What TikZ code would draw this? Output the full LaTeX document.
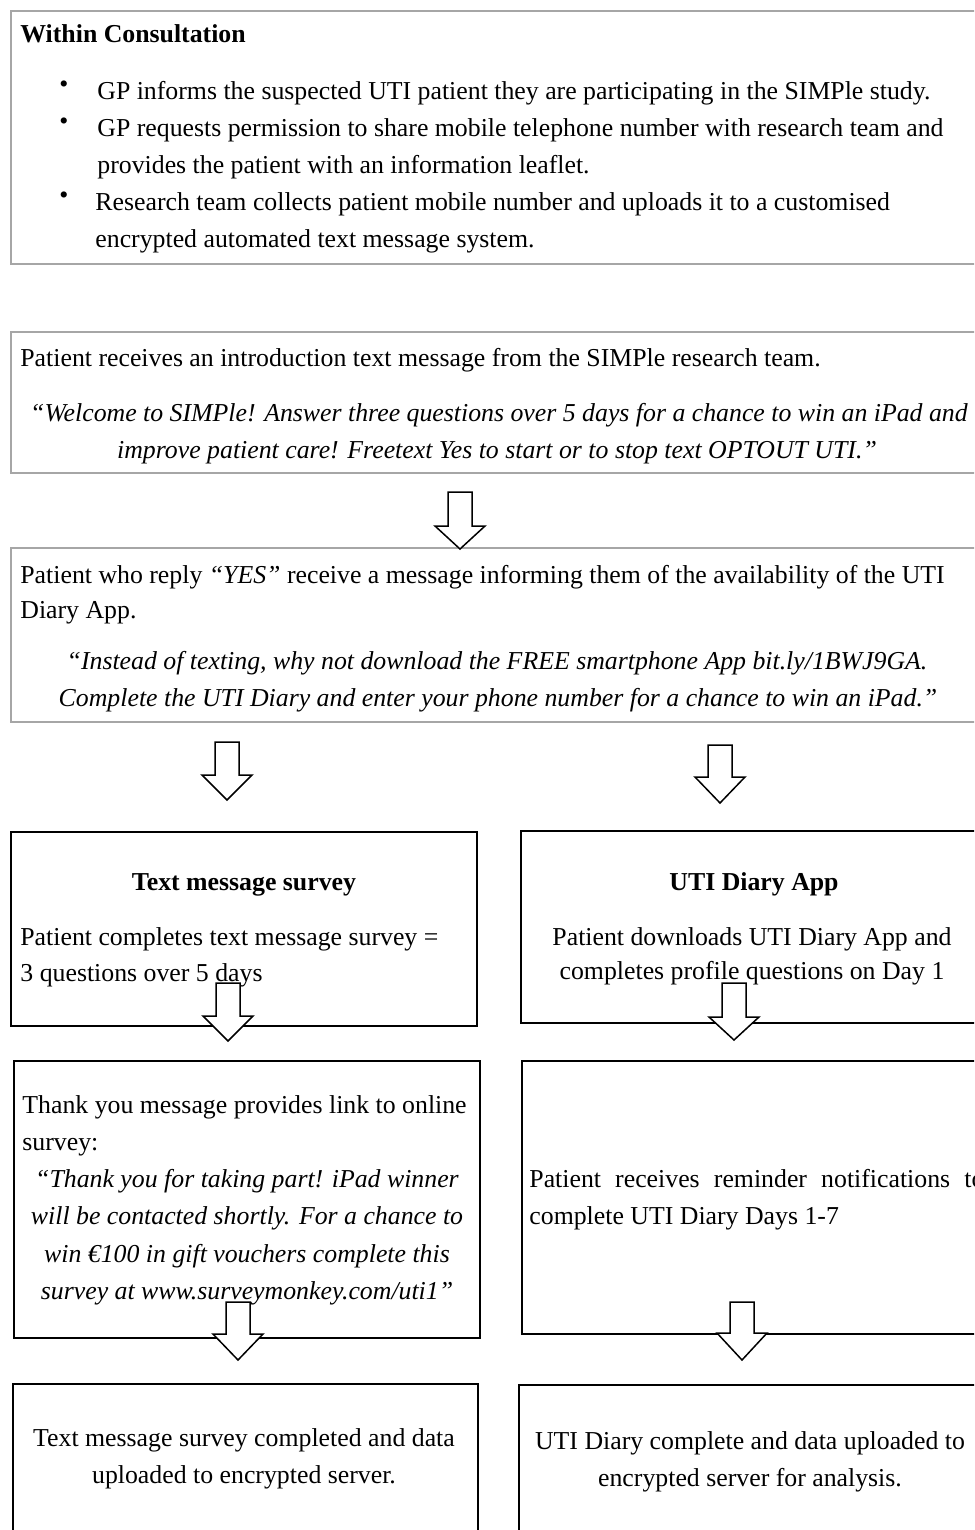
\documentclass[tikz,border=0pt]{standalone}
\usepackage{fontspec}
\setmainfont{Liberation Serif}
\newlength{\du}
\setlength{\du}{0.5pt}
% block arrow pointing down: centre x, top y, shoulder y, tip y
\newcommand{\downblock}[4]{%
\draw[blockarrow] (#1-12,#2)--(#1+12,#2)--(#1+12,#3)--(#1+25,#3)--(#1,#4)--(#1-25,#3)--(#1-12,#3)--cycle;}

\begin{document}
\begin{tikzpicture}[x=\du,y=-\du]
\tikzset{
  greybox/.style={draw=black!35,line width=2\du,anchor=north west,inner sep=0pt},
  blackbox/.style={draw=black,line width=2.2\du,anchor=north west,inner sep=0pt},
  txt/.style={anchor=base west,inner sep=0pt,font=\fontsize{12.9}{18.5}\selectfont},
  ctxt/.style={anchor=base,inner sep=0pt,font=\fontsize{12.9}{18.5}\selectfont},
  blockarrow/.style={draw=black,fill=white,line width=1.5\du,line join=miter}
}
\useasboundingbox (0,0) rectangle (974,1530);
\clip (0,0) rectangle (974,1530);
\fill[white] (0,0) rectangle (974,1530);
% boxes
\node[greybox,minimum width=990\du,minimum height=253\du] (consult) at (10,10) {};
\node[greybox,minimum width=990\du,minimum height=141\du] (intro) at (10,331) {};
\node[greybox,minimum width=990\du,minimum height=174\du] (yes) at (10,547) {};
\node[blackbox,minimum width=466\du,minimum height=194\du] (survey) at (10,831) {};
\node[blackbox,minimum width=480\du,minimum height=192\du] (diary) at (520,830) {};
\node[blackbox,minimum width=466\du,minimum height=277\du] (thanks) at (13,1060) {};
\node[blackbox,minimum width=480\du,minimum height=273\du] (remind) at (521,1060) {};
\node[blackbox,minimum width=465\du,minimum height=180\du] (doneL) at (12,1383) {};
\node[blackbox,minimum width=480\du,minimum height=180\du] (doneR) at (518,1384) {};
% within consultation
\node[txt] (wc) at (20,43) {\textbf{Within Consultation}};
\node[txt] (b1) at (59,93) {\textbullet};
\node[txt] (b2) at (59,130) {\textbullet};
\node[txt] (b3) at (59,204) {\textbullet};
\node[txt] (gp1) at (97,100) {GP informs the suspected UTI patient they are participating in the SIMPle study.};
\node[txt] (gp2) at (97,137) {GP requests permission to share mobile telephone number with research team and};
\node[txt] (gp3) at (97,174) {provides the patient with an information leaflet.};
\node[txt] (rt1) at (95,211) {Research team collects patient mobile number and uploads it to a customised};
\node[txt] (rt2) at (95,248) {encrypted automated text message system.};
% introduction message
\node[txt] (in1) at (20,366) {Patient receives an introduction text message from the SIMPle research team.};
\node[ctxt] (in2) at (499,421) {\textit{“Welcome to SIMPle! Answer three questions over 5 days for a chance to win an iPad and}};
\node[ctxt] (in3) at (497,458) {\textit{improve patient care! Freetext Yes to start or to stop text OPTOUT UTI.”}};
% yes reply
\node[txt] (ys1) at (20,583) {Patient who reply \textit{“YES”} receive a message informing them of the availability of the UTI};
\node[txt] (ys2) at (20,618) {Diary App.};
\node[ctxt] (ys3) at (497,669) {\textit{“Instead of texting, why not download the FREE smartphone App bit.ly/1BWJ9GA.}};
\node[ctxt] (ys4) at (498,706) {\textit{Complete the UTI Diary and enter your phone number for a chance to win an iPad.”}};
% text message survey
\node[ctxt] (sv0) at (244,890) {\textbf{Text message survey}};
\node[txt] (sv1) at (20,945) {Patient completes text message survey =};
\node[txt] (sv2) at (20,981) {3 questions over 5 days};
% uti diary app
\node[ctxt] (dy0) at (754,890) {\textbf{UTI Diary App}};
\node[ctxt] (dy1) at (752,945) {Patient downloads UTI Diary App and};
\node[ctxt] (dy2) at (752,979) {completes profile questions on Day 1};
% thank you message
\node[txt] (ty1) at (22,1113) {Thank you message provides link to online};
\node[txt] (ty2) at (22,1150) {survey:};
\node[ctxt] (ty3) at (247,1187) {\textit{“Thank you for taking part! iPad winner}};
\node[ctxt] (ty4) at (247,1224) {\textit{will be contacted shortly. For a chance to}};
\node[ctxt] (ty5) at (247,1262) {\textit{win €100 in gift vouchers complete this}};
\node[ctxt] (ty6) at (247,1299) {\textit{survey at www.surveymonkey.com/uti1”}};
% reminders
\node[txt] (rm1) at (529,1187) {\makebox[455\du][s]{Patient receives reminder notifications to}};
\node[txt] (rm2) at (529,1224) {complete UTI Diary Days 1-7};
% completed
\node[ctxt] (dn1) at (244,1446) {Text message survey completed and data};
\node[ctxt] (dn2) at (244,1483) {uploaded to encrypted server.};
\node[ctxt] (dn3) at (750,1449) {UTI Diary complete and data uploaded to};
\node[ctxt] (dn4) at (750,1486) {encrypted server for analysis.};
% arrows
\downblock{460}{492}{526}{549}
\downblock{227}{742}{775}{800}
\downblock{720}{745}{777}{803}
\downblock{228}{983}{1016}{1041}
\downblock{734}{983}{1017}{1040}
\downblock{238}{1302}{1334}{1360}
\downblock{742}{1302}{1333}{1360}
\end{tikzpicture}
\end{document}
